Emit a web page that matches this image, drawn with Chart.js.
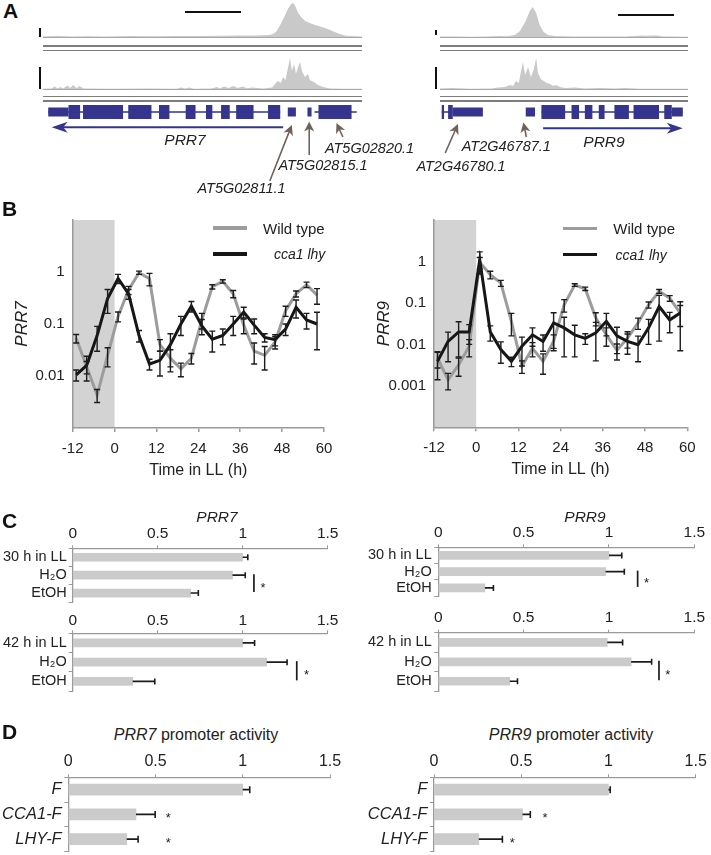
<!DOCTYPE html>
<html lang="en"><head><meta charset="utf-8"><title>PRR7 / PRR9</title>
<script src="https://cdn.jsdelivr.net/npm/chart.js@4.4.1/dist/chart.umd.min.js"></script>
<style>
html,body{margin:0;padding:0;background:#fff;}
body{position:relative;width:711px;height:855px;overflow:hidden;font-family:"Liberation Sans",Arial,Helvetica,sans-serif;color:#222;}
canvas{position:absolute;}
.t{position:absolute;white-space:nowrap;line-height:1;}
.ln{position:absolute;}
</style></head><body>
<script>
// ================= DATA =================
// ---- Panel A: read coverage (position in kb within window, relative depth) ----
const prr7WindowKb = 5.5;
const prr9WindowKb = 4.28;
const covFullScale = 37;

const prr7TrackTopPos = [0,0.25,0.5,0.8,1.1,1.5,1.9,2.3,2.7,3.1,3.4,3.7,3.9,3.97,4.03,4.09,4.16,4.22,4.28,4.31,4.34,4.4,4.45,4.52,4.6,4.69,4.78,4.86,4.95,5.03,5.12,5.21,5.29,5.4,5.5];
const prr7TrackTopVal = [0.6,0.9,0.5,0.8,0.6,1.0,0.7,1.1,0.9,1.3,1.6,1.4,2.0,3,6,12,20,28,33,34,32,24,20,16,14,12,10.5,9,7,5,3,1.5,1,0.8,0.6];
const prr7TrackBotPos = [0,0.15,0.2,0.25,0.3,0.35,0.42,0.47,0.52,0.58,0.63,0.7,1.2,1.8,2.3,2.38,2.45,2.52,2.6,2.9,3.0,3.05,3.12,3.2,3.28,3.36,3.44,3.52,3.6,3.8,3.95,4.0,4.05,4.1,4.14,4.18,4.22,4.26,4.29,4.33,4.36,4.4,4.43,4.47,4.52,4.57,4.6,4.67,4.74,4.81,4.88,4.95,5.2,5.5];
const prr7TrackBotVal = [0.3,0.4,2.5,0.6,2,0.5,3.5,1,4,0.8,3,0.4,0.3,0.4,0.3,1.5,0.5,1.5,0.3,0.4,2,0.6,2.5,1,3,1,2.5,0.7,1.5,0.5,1.5,5,8,6,12,9,20,31,18,25,15,22,27,17,12,15,9,7,4,2.5,1.2,0.5,0.3,0.2];
const prr9TrackTopPos = [0,0.3,0.52,0.8,1.03,1.15,1.29,1.38,1.47,1.55,1.6,1.66,1.72,1.79,1.86,1.98,2.3,2.76,3.2,3.5,3.55,3.65,3.75,3.85,3.95,4.28];
const prr9TrackTopVal = [0.4,0.5,0.3,0.6,1,0.8,2,6,15,26,30,24,12,5,2,1,0.6,0.5,0.5,1.5,1.2,1.6,1.4,0.5,0.4,0.3];
const prr9TrackBotPos = [0,0.21,0.52,0.9,1.0,1.12,1.21,1.26,1.31,1.36,1.4,1.43,1.47,1.52,1.57,1.62,1.66,1.69,1.74,1.79,1.84,1.9,1.95,2.0,2.07,2.16,2.33,2.5,2.76,3.02,3.19,3.45,4.28];
const prr9TrackBotVal = [0.5,1,0.3,0.5,1.5,2,4,3,8,6,18,27,14,22,12,20,31,16,10,8,6,5,3,4,2,1,1.5,0.5,1,0.5,1,0.3,0.2];

// ---- Panel A: gene models (kb) ----
const prr7TallExons = [[0.44,0.64],[0.69,1.38],[1.47,1.87],[2.0,2.18],[2.46,2.63],[2.81,2.92],[3.07,3.22],[3.33,3.63],[3.88,4.09],[4.75,5.32]];
const prr7ShortExons = [[0.09,0.44],[4.22,4.36],[4.56,4.63]];
const prr7Introns = [[0.09,4.09],[4.68,5.41]];
const prr7Strand = [4.14, 0.15];
const prr9TallExons = [[0.03,0.07],[0.14,0.22],[1.75,2.16],[2.27,2.40],[2.50,2.63],[2.74,2.84],[3.01,3.26],[3.34,3.78],[3.87,4.0]];
const prr9ShortExons = [[0.22,0.74],[1.48,1.64],[4.0,4.19]];
const prr9Introns = [[0.03,0.22],[1.75,4.19]];
const prr9Strand = [1.78, 4.19];
const prr7NeighbourGenes = ['AT5G02811.1','AT5G02815.1','AT5G02820.1'];
const prr7NeighbourKb = [4.29, 4.59, 5.06];
const prr9NeighbourGenes = ['AT2G46780.1','AT2G46787.1'];
const prr9NeighbourKb = [0.31, 1.44];

// ---- Panel B: time courses (h in LL) ----
const darkInterval = [-12, 0];
const timeTicks = [-12, 0, 12, 24, 36, 48, 60];
const times = [-11,-8,-5,-2,1,4,7,10,13,16,19,22,25,28,31,34,37,40,43,46,49,52,55,58];
const prr7WT     = [0.053,0.015,0.0043,0.025,0.14,0.45,0.97,0.74,0.04,0.022,0.0137,0.022,0.12,0.52,0.66,0.38,0.095,0.03,0.025,0.045,0.18,0.38,0.57,0.36];
const prr7WTErr  = [0.01,0.004,0.0012,0.01,0.03,0.08,0.07,0.2,0.01,0.01,0.004,0.005,0.04,0.05,0.05,0.06,0.03,0.013,0.012,0.012,0.04,0.05,0.07,0.12];
const prr7Mut    = [0.0105,0.016,0.06,0.31,0.75,0.38,0.06,0.017,0.02,0.04,0.1,0.22,0.092,0.051,0.06,0.1,0.17,0.095,0.055,0.05,0.08,0.21,0.12,0.1];
const prr7MutErr = [0.0025,0.008,0.03,0.15,0.15,0.08,0.015,0.004,0.01,0.025,0.04,0.05,0.03,0.022,0.02,0.04,0.04,0.03,0.01,0.012,0.02,0.08,0.04,0.068];
const prr9WT     = [0.0047,0.0014,0.0032,0.009,0.95,0.48,0.3,0.036,0.003,0.008,0.0039,0.012,0.09,0.27,0.22,0.043,0.017,0.0072,0.0141,0.033,0.09,0.19,0.13,0.057];
const prr9WTErr  = [0.002,0.0006,0.0015,0.004,0.3,0.1,0.05,0.02,0.001,0.003,0.002,0.005,0.03,0.02,0.02,0.015,0.008,0.003,0.006,0.01,0.015,0.02,0.02,0.03];
const prr9Mut    = [0.0039,0.0118,0.02,0.02,1.1,0.02,0.0075,0.0039,0.009,0.017,0.0118,0.033,0.025,0.017,0.014,0.019,0.036,0.016,0.0118,0.0098,0.025,0.082,0.039,0.057];
const prr9MutErr = [0.0025,0.008,0.015,0.01,0.6,0.008,0.004,0.001,0.006,0.008,0.005,0.025,0.02,0.012,0.004,0.015,0.02,0.01,0.006,0.006,0.015,0.07,0.02,0.05];
const prr7YTicks = [0.01, 0.1, 1];
const prr7YLabels = ['0.01', '0.1', '1'];
const prr9YTicks = [0.001, 0.01, 0.1, 1];
const prr9YLabels = ['0.001', '0.01', '0.1', '1'];

// ---- Panel C: relative expression ----
const cLabels30 = ['30 h in LL', 'H\u2082O', 'EtOH'];
const cLabels42 = ['42 h in LL', 'H\u2082O', 'EtOH'];
const prr7At30 = [1.0, 0.94, 0.694];   const prr7At30Err = [0.03, 0.075, 0.045];
const prr7At42 = [1.0, 1.141, 0.353];  const prr7At42Err = [0.07, 0.12, 0.13];
const prr9At30 = [1.0, 0.98, 0.273];   const prr9At30Err = [0.075, 0.11, 0.05];
const prr9At42 = [0.99, 1.13, 0.419];  const prr9At42Err = [0.09, 0.12, 0.045];

// ---- Panel D: promoter activity ----
const dLabels = ['F', 'CCA1-F', 'LHY-F'];
const prr7Promoter = [1.0, 0.388, 0.335]; const prr7PromoterErr = [0.04, 0.11, 0.065];
const prr9Promoter = [1.0, 0.507, 0.257]; const prr9PromoterErr = [0.01, 0.045, 0.135];

// ================= DRAWING =================
const FONT = '"Liberation Sans", Arial, Helvetica, sans-serif';
Chart.defaults.font.family = FONT;
Chart.defaults.color = '#222';
Chart.defaults.animation = false;
Chart.defaults.responsive = false;
Chart.defaults.maintainAspectRatio = false;
Chart.defaults.plugins.legend.display = false;
Chart.defaults.plugins.tooltip.enabled = false;
Chart.defaults.events = [];
const AXIS = '#9a9a9a';
const INK = '#1c1c1c';
const GENE = '#35358f';
const CALLOUT = '#6e6259';

function mkCanvas(l, t, w, h) {
  const c = document.createElement('canvas');
  c.width = w; c.height = h;
  c.style.left = l + 'px'; c.style.top = t + 'px';
  c.style.width = w + 'px'; c.style.height = h + 'px';
  document.body.appendChild(c);
  return c;
}
function txt(html, x, cy, size, o) {
  o = o || {};
  const d = document.createElement('div');
  d.className = 't';
  d.innerHTML = html;
  d.style.fontSize = size + 'px';
  d.style.top = (cy - 0.4885 * size) + 'px';
  if (o.align === 'center') { d.style.left = x + 'px'; d.style.transform = 'translateX(-50%)'; }
  else if (o.align === 'right') { d.style.right = (711 - x) + 'px'; }
  else d.style.left = x + 'px';
  if (o.italic) d.style.fontStyle = 'italic';
  if (o.bold) d.style.fontWeight = 'bold';
  if (o.color) d.style.color = o.color;
  document.body.appendChild(d);
}
function box(l, t, w, h, color) {
  const d = document.createElement('div');
  d.className = 'ln';
  d.style.left = l + 'px'; d.style.top = t + 'px';
  d.style.width = w + 'px'; d.style.height = h + 'px';
  d.style.background = color;
  document.body.appendChild(d);
}
function arrow(ctx, x1, y1, x2, y2, color, w, hl, hw) {
  const a = Math.atan2(y2 - y1, x2 - x1);
  const bx = x2 - hl * Math.cos(a), by = y2 - hl * Math.sin(a);
  ctx.strokeStyle = color; ctx.fillStyle = color; ctx.lineWidth = w;
  ctx.beginPath(); ctx.moveTo(x1, y1); ctx.lineTo(x2 - hl * 0.6 * Math.cos(a), y2 - hl * 0.6 * Math.sin(a)); ctx.stroke();
  const nx = Math.sin(a), ny = -Math.cos(a);
  const ix = x2 - hl * 0.72 * Math.cos(a), iy = y2 - hl * 0.72 * Math.sin(a);
  ctx.beginPath(); ctx.moveTo(x2, y2);
  ctx.lineTo(bx + hw * nx, by + hw * ny);
  ctx.lineTo(ix, iy);
  ctx.lineTo(bx - hw * nx, by - hw * ny);
  ctx.closePath(); ctx.fill();
}
function star(ctx, x, cy) {
  const f = 13;
  ctx.font = f + 'px ' + FONT; ctx.textAlign = 'center'; ctx.textBaseline = 'alphabetic';
  ctx.fillStyle = INK;
  ctx.fillText('*', x, cy + 0.57 * f);
}

// ---------- Panel A ----------
function coverageChart(l, t, r, b, xmax, pos, val) {
  const c = mkCanvas(l, t, r - l, b - t);
  new Chart(c, {
    type: 'line',
    data: { datasets: [{ data: pos.map((p, i) => ({ x: p, y: val[i] })), borderWidth: 0, backgroundColor: '#c9c9c9', fill: 'origin', pointRadius: 0, tension: 0 }] },
    options: { devicePixelRatio: 1, layout: { padding: 0 },
      scales: { x: { type: 'linear', min: 0, max: xmax, display: false }, y: { type: 'linear', min: 0, max: covFullScale, display: false } } }
  });
}
function segs(list, y) {
  const out = [];
  list.forEach(([s, e]) => { out.push({ x: s, y: y }, { x: e, y: y }, { x: e, y: null }); });
  return out;
}
function geneChart(l, t, r, b, xmax, tall, short, introns, strand, strandRow, callouts) {
  const c = mkCanvas(l, t, r - l, b - t);
  const GENE_ROW = 12;
  const plug = { id: 'geneArrows', afterDatasetsDraw(ch) {
    const X = ch.scales.x, Y = ch.scales.y, ctx = ch.ctx;
    ctx.save();
    arrow(ctx, X.getPixelForValue(strand[0]), Y.getPixelForValue(strandRow), X.getPixelForValue(strand[1]), Y.getPixelForValue(strandRow), GENE, 2, 16, 5.5);
    callouts.forEach(co => arrow(ctx, X.getPixelForValue(co.fromKb), Y.getPixelForValue(co.fromRow), X.getPixelForValue(co.toKb), Y.getPixelForValue(co.toRow), CALLOUT, 1.6, 10, 5));
    ctx.restore();
  } };
  new Chart(c, {
    type: 'line',
    data: { datasets: [
      { data: segs(introns, GENE_ROW), borderColor: GENE, borderWidth: 1.5, pointRadius: 0, spanGaps: false },
      { data: segs(short, GENE_ROW), borderColor: GENE, borderWidth: 9, borderCapStyle: 'butt', pointRadius: 0, spanGaps: false },
      { data: segs(tall, GENE_ROW), borderColor: GENE, borderWidth: 14, borderCapStyle: 'butt', pointRadius: 0, spanGaps: false }
    ] },
    options: { devicePixelRatio: 1, layout: { padding: 0 },
      scales: { x: { type: 'linear', min: 0, max: xmax, display: false }, y: { type: 'linear', min: 0, max: b - t, reverse: true, display: false } } },
    plugins: [plug]
  });
}

// Left window (PRR7)
coverageChart(43, 0, 362, 37, prr7WindowKb, prr7TrackTopPos, prr7TrackTopVal);
coverageChart(43, 52, 362, 89, prr7WindowKb, prr7TrackBotPos, prr7TrackBotVal);
geneChart(43, 100, 362, 200, prr7WindowKb, prr7TallExons, prr7ShortExons, prr7Introns, prr7Strand, 27.3, [
  { toKb: prr7NeighbourKb[0], toRow: 25, fromKb: 3.91, fromRow: 81 },
  { toKb: prr7NeighbourKb[1], toRow: 21.5, fromKb: 4.59, fromRow: 55 },
  { toKb: prr7NeighbourKb[2], toRow: 23, fromKb: 5.17, fromRow: 37 }
]);
// Right window (PRR9)
coverageChart(440, 0, 688, 37, prr9WindowKb, prr9TrackTopPos, prr9TrackTopVal);
coverageChart(440, 52, 688, 89, prr9WindowKb, prr9TrackBotPos, prr9TrackBotVal);
geneChart(440, 100, 688, 200, prr9WindowKb, prr9TallExons, prr9ShortExons, prr9Introns, prr9Strand, 28.3, [
  { toKb: prr9NeighbourKb[0], toRow: 24, fromKb: 0.09, fromRow: 53 },
  { toKb: prr9NeighbourKb[1], toRow: 22.5, fromKb: 1.49, fromRow: 37 }
]);
// track frames
[[43, 362], [440, 688]].forEach(([a, b]) => {
  box(a, 36.5, b - a, 1, '#a8a8a8');
  box(a, 45.3, b - a, 1.4, '#7d7d7d'); box(a, 49.8, b - a, 1.4, '#7d7d7d');
  box(a, 88.5, b - a, 1, '#a8a8a8');
  box(a, 96, b - a, 1.4, '#7d7d7d'); box(a, 100.4, b - a, 1.4, '#7d7d7d');
});
box(39.3, 28, 1.6, 8.5, '#111'); box(39.3, 67, 1.6, 22, '#111');
box(435.3, 30, 1.6, 5, '#111'); box(435.3, 67, 1.6, 22, '#111');
box(185, 11.3, 56, 1.6, '#111'); box(618, 14, 56, 1.6, '#111');
txt('<i>PRR7</i>', 185, 140, 15.5, { align: 'center' });
txt('<i>PRR9</i>', 604, 141.5, 15.5, { align: 'center' });
txt(prr7NeighbourGenes[0], 241.5, 188.5, 14.5, { align: 'center', italic: true });
txt(prr7NeighbourGenes[1], 323, 165, 14.5, { align: 'center', italic: true });
txt(prr7NeighbourGenes[2], 369.5, 148, 14.5, { align: 'center', italic: true });
txt(prr9NeighbourGenes[0], 461, 165.7, 14.5, { align: 'center', italic: true });
txt(prr9NeighbourGenes[1], 506.3, 145.7, 14.5, { align: 'center', italic: true });

// ---------- Panel B ----------
function timeCourse(o) {
  const c = mkCanvas(o.cl, o.ct, o.cw, o.ch);
  const hx = 56;
  const wy = o.area.l - o.cl - o.padLeft;
  const shade = { id: 'shade', beforeDraw(ch) {
    const X = ch.scales.x, a = ch.chartArea, ctx = ch.ctx;
    const x1 = X.getPixelForValue(darkInterval[0]), x2 = X.getPixelForValue(darkInterval[1]);
    ctx.save(); ctx.fillStyle = '#d3d3d3'; ctx.fillRect(x1, a.top, x2 - x1, a.bottom - a.top); ctx.restore();
  } };
  const ebars = { id: 'ebars', afterDatasetsDraw(ch) {
    const Y = ch.scales.y, ctx = ch.ctx;
    ctx.save(); ctx.strokeStyle = INK; ctx.lineWidth = 1.4;
    ch.data.datasets.forEach((ds, di) => {
      const meta = ch.getDatasetMeta(di);
      ds.errors.forEach((e, i) => {
        const v = ds.data[i].y, x = meta.data[i].x;
        const yHi = Y.getPixelForValue(v + e);
        const yLo = Y.getPixelForValue(v - e > 0 ? v - e : Y.min);
        ctx.beginPath();
        ctx.moveTo(x, yHi); ctx.lineTo(x, yLo);
        ctx.moveTo(x - 3, yHi); ctx.lineTo(x + 3, yHi);
        ctx.moveTo(x - 3, yLo); ctx.lineTo(x + 3, yLo);
        ctx.stroke();
      });
    });
    ctx.restore();
  } };
  new Chart(c, {
    type: 'line',
    data: { datasets: [
      { label: 'cca1 lhy', data: times.map((t, i) => ({ x: t, y: o.mut[i] })), errors: o.mutErr, borderColor: '#161616', borderWidth: 3, pointRadius: 0, tension: 0 },
      { label: 'Wild type', data: times.map((t, i) => ({ x: t, y: o.wt[i] })), errors: o.wtErr, borderColor: '#9c9c9c', borderWidth: 3, pointRadius: 0, tension: 0 }
    ] },
    options: {
      devicePixelRatio: 1,
      layout: { padding: { left: o.padLeft, top: o.area.t - o.ct, right: o.cl + o.cw - o.area.r, bottom: o.ct + o.ch - o.area.b - hx } },
      scales: {
        x: { type: 'linear', min: -12, max: 60,
          afterBuildTicks(s) { s.ticks = timeTicks.map(v => ({ value: v })); },
          ticks: { callback: v => String(v), font: { size: 15 }, color: '#222', padding: 8, autoSkip: false, maxRotation: 0 },
          grid: { display: true, drawOnChartArea: false, drawTicks: true, tickLength: 4, color: AXIS, lineWidth: 1.5 },
          border: { display: true, color: AXIS, width: 1.5 },
          title: { display: true, text: 'Time in LL (h)', font: { size: 16 }, color: '#222', padding: { top: 4, bottom: 4 } },
          afterFit(s) { s.height = hx; s.paddingLeft = 0; s.paddingRight = 0; } },
        y: { type: 'logarithmic', min: o.yMin, max: 10,
          afterBuildTicks(s) { s.ticks = o.yTicks.map(v => ({ value: v })); },
          ticks: { callback: v => { const k = o.yTicks.indexOf(v); return k >= 0 ? o.yLabels[k] : ''; }, font: { size: 15 }, color: '#222', padding: 8, autoSkip: false },
          grid: { display: false, drawTicks: false },
          border: { display: true, color: AXIS, width: 1.5 },
          title: { display: true, text: o.yTitle, font: { size: 17, style: 'italic' }, color: '#222', padding: { top: 4, bottom: 4 } },
          afterFit(s) { s.width = wy; s.paddingTop = 0; s.paddingBottom = 0; } }
      }
    },
    plugins: [shade, ebars]
  });
}
timeCourse({ cl: 0, ct: 200, cw: 345, ch: 290, padLeft: 8, area: { l: 72.7, t: 220, r: 324, b: 428 },
  yMin: 0.001, yTicks: prr7YTicks, yLabels: prr7YLabels, yTitle: 'PRR7', wt: prr7WT, wtErr: prr7WTErr, mut: prr7Mut, mutErr: prr7MutErr });
timeCourse({ cl: 355, ct: 200, cw: 356, ch: 290, padLeft: 14.7, area: { l: 434, t: 220, r: 687.3, b: 427.3 },
  yMin: 0.0001, yTicks: prr9YTicks, yLabels: prr9YLabels, yTitle: 'PRR9', wt: prr9WT, wtErr: prr9WTErr, mut: prr9Mut, mutErr: prr9MutErr });
// legends
box(213, 226.3, 34, 3.5, '#9c9c9c'); box(213, 252, 34, 3.5, '#161616');
txt('Wild type', 263, 228.5, 15); txt('cca1 lhy', 274, 254, 14, { italic: true });
box(563.3, 226.6, 33.5, 3.5, '#9c9c9c'); box(563.3, 252.6, 33.5, 3.5, '#161616');
txt('Wild type', 613.3, 228.8, 15); txt('cca1 lhy', 615.5, 254.5, 14, { italic: true });

// ---------- Panels C & D ----------
function hbars(o) {
  const c = mkCanvas(o.cl, o.ct, o.cw, o.ch);
  const hx = o.area.t - o.ct, wy = o.area.l - o.cl;
  const deco = { id: 'deco', afterDatasetsDraw(ch) {
    const X = ch.scales.x, Y = ch.scales.y, ctx = ch.ctx;
    ctx.save(); ctx.strokeStyle = INK; ctx.lineWidth = 1.6;
    o.values.forEach((v, i) => {
      const y = Y.getPixelForValue(i);
      const x1 = X.getPixelForValue(v), x2 = X.getPixelForValue(v + o.errors[i]);
      ctx.beginPath(); ctx.moveTo(x1, y); ctx.lineTo(x2, y);
      ctx.moveTo(x2, y - o.cap); ctx.lineTo(x2, y + o.cap); ctx.stroke();
    });
    (o.brackets || []).forEach(b => {
      const x = X.getPixelForValue(b.x), y1 = Y.getPixelForValue(b.from), y2 = Y.getPixelForValue(b.to);
      ctx.lineWidth = 1.7; ctx.beginPath(); ctx.moveTo(x, y1 - 1); ctx.lineTo(x, y2 - 1); ctx.stroke();
      star(ctx, X.getPixelForValue(b.starX), (y1 + y2) / 2);
    });
    (o.stars || []).forEach(s => star(ctx, X.getPixelForValue(s.x), Y.getPixelForValue(s.index)));
    ctx.restore();
  } };
  new Chart(c, {
    type: 'bar',
    data: { labels: o.labels, datasets: [{ data: o.values, backgroundColor: '#cbcbcb', borderWidth: 0, barThickness: o.barThickness }] },
    options: {
      devicePixelRatio: 1, indexAxis: 'y',
      layout: { padding: { left: 0, top: 0, right: o.cl + o.cw - o.area.r, bottom: o.ct + o.ch - o.area.b } },
      scales: {
        x: { type: 'linear', position: 'top', min: 0, max: 1.5,
          ticks: { stepSize: 0.5, callback: v => String(v), font: { size: o.tickSize }, color: '#222', padding: o.tickPad, autoSkip: false, maxRotation: 0 },
          grid: { drawOnChartArea: false, drawTicks: true, tickLength: 3, color: AXIS },
          border: { color: AXIS, width: 1.3 },
          afterFit(s) { s.height = hx; s.paddingLeft = 0; s.paddingRight = 0; } },
        y: { type: 'category',
          ticks: { font: o.catFont, color: '#222', padding: o.catPad, autoSkip: false },
          grid: { drawOnChartArea: false, drawTicks: true, tickLength: 4, color: AXIS, offset: true },
          border: { color: AXIS, width: 1.3 },
          afterFit(s) { s.width = wy; s.paddingTop = 0; s.paddingBottom = 0; } }
      }
    },
    plugins: [deco]
  });
}
const cFont = { size: 14.5 };
hbars({ cl: 0, ct: 522, cw: 345, ch: 82, area: { l: 72.7, t: 548.3, r: 327.7, b: 602 }, labels: cLabels30, values: prr7At30, errors: prr7At30Err,
  barThickness: 8, cap: 3, tickSize: 15.5, tickPad: 1.8, catFont: cFont, catPad: 2, brackets: [{ from: 1, to: 2, x: 1.066, starX: 1.12 }] });
hbars({ cl: 0, ct: 607, cw: 345, ch: 86, area: { l: 72.7, t: 633.3, r: 327.7, b: 691 }, labels: cLabels42, values: prr7At42, errors: prr7At42Err,
  barThickness: 8, cap: 3, tickSize: 15.5, tickPad: 0.5, catFont: cFont, catPad: 2, brackets: [{ from: 1, to: 2, x: 1.318, starX: 1.376 }] });
hbars({ cl: 355, ct: 522, cw: 356, ch: 78, area: { l: 438.3, t: 547.3, r: 694.3, b: 596 }, labels: cLabels30, values: prr9At30, errors: prr9At30Err,
  barThickness: 8, cap: 3, tickSize: 15.5, tickPad: 2.5, catFont: cFont, catPad: 2.6, brackets: [{ from: 1, to: 2, x: 1.168, starX: 1.22 }] });
hbars({ cl: 355, ct: 607, cw: 356, ch: 86, area: { l: 438.3, t: 632.7, r: 694.3, b: 691 }, labels: cLabels42, values: prr9At42, errors: prr9At42Err,
  barThickness: 8, cap: 3, tickSize: 15.5, tickPad: 2.9, catFont: cFont, catPad: 2.6, brackets: [{ from: 1, to: 2, x: 1.293, starX: 1.344 }] });
txt('<i>PRR7</i>', 217, 517, 15.5, { align: 'center' });
txt('<i>PRR9</i>', 585, 516.7, 15.5, { align: 'center' });

const dFont = { size: 16.5, style: 'italic' };
hbars({ cl: 0, ct: 750, cw: 345, ch: 104, area: { l: 68.3, t: 777.3, r: 330, b: 851.5 }, labels: dLabels, values: prr7Promoter, errors: prr7PromoterErr,
  barThickness: 11, cap: 3.5, tickSize: 16, tickPad: 3, catFont: dFont, catPad: 2.6, stars: [{ index: 1, x: 0.573 }, { index: 2, x: 0.573 }] });
hbars({ cl: 355, ct: 750, cw: 356, ch: 104, area: { l: 434, t: 777.3, r: 695.7, b: 851.5 }, labels: dLabels, values: prr9Promoter, errors: prr9PromoterErr,
  barThickness: 11, cap: 3.5, tickSize: 16, tickPad: 3, catFont: dFont, catPad: 2.6, stars: [{ index: 1, x: 0.636 }, { index: 2, x: 0.449 }] });
txt('<i>PRR7</i> promoter activity', 196, 735, 16, { align: 'center' });
txt('<i>PRR9</i> promoter activity', 571, 735, 16, { align: 'center' });

// panel letters
txt('A', 3, 10.3, 21, { bold: true, color: '#111' });
txt('B', 2, 208.5, 21, { bold: true, color: '#111' });
txt('C', 2, 520.5, 21, { bold: true, color: '#111' });
txt('D', 2, 731.5, 21, { bold: true, color: '#111' });
</script>
</body></html>
